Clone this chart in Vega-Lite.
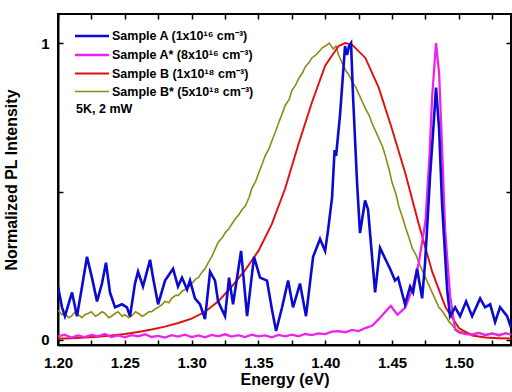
{
  "$schema": "https://vega.github.io/schema/vega-lite/v6.json",
  "width": 453,
  "height": 331,
  "autosize": {"type": "none"},
  "padding": {"left": 58, "top": 14, "right": 1, "bottom": 47},
  "background": "white",
  "config": {
    "font": "Liberation Sans",
    "view": {"stroke": "black", "strokeWidth": 2},
    "axis": {"labelFont": "Liberation Sans", "titleFont": "Liberation Sans", "labelFontWeight": "bold", "titleFontWeight": "bold", "labelColor": "black", "titleColor": "black", "domainColor": "black", "domainWidth": 2, "tickColor": "black", "tickWidth": 1.5, "grid": false}
  },
  "datasets": {
    "spectra": [
      {"s":"B*","x":1.200,"y":0.10},{"s":"B*","x":1.203,"y":0.085},{"s":"B*","x":1.205,"y":0.09},{"s":"B*","x":1.208,"y":0.075},{"s":"B*","x":1.210,"y":0.08},{"s":"B*","x":1.213,"y":0.095},{"s":"B*","x":1.215,"y":0.085},{"s":"B*","x":1.218,"y":0.075},{"s":"B*","x":1.220,"y":0.085},{"s":"B*","x":1.223,"y":0.09},{"s":"B*","x":1.225,"y":0.095},{"s":"B*","x":1.228,"y":0.08},{"s":"B*","x":1.230,"y":0.085},{"s":"B*","x":1.233,"y":0.095},{"s":"B*","x":1.235,"y":0.09},{"s":"B*","x":1.238,"y":0.075},{"s":"B*","x":1.240,"y":0.08},{"s":"B*","x":1.243,"y":0.09},{"s":"B*","x":1.245,"y":0.095},{"s":"B*","x":1.248,"y":0.08},{"s":"B*","x":1.250,"y":0.085},{"s":"B*","x":1.253,"y":0.075},{"s":"B*","x":1.255,"y":0.08},{"s":"B*","x":1.258,"y":0.095},{"s":"B*","x":1.260,"y":0.09},{"s":"B*","x":1.263,"y":0.08},{"s":"B*","x":1.265,"y":0.085},{"s":"B*","x":1.268,"y":0.095},{"s":"B*","x":1.270,"y":0.095},{"s":"B*","x":1.273,"y":0.105},{"s":"B*","x":1.275,"y":0.11},{"s":"B*","x":1.278,"y":0.12},{"s":"B*","x":1.280,"y":0.13},{"s":"B*","x":1.283,"y":0.125},{"s":"B*","x":1.285,"y":0.14},{"s":"B*","x":1.288,"y":0.15},{"s":"B*","x":1.290,"y":0.15},{"s":"B*","x":1.293,"y":0.165},{"s":"B*","x":1.295,"y":0.17},{"s":"B*","x":1.298,"y":0.18},{"s":"B*","x":1.300,"y":0.19},{"s":"B*","x":1.303,"y":0.205},{"s":"B*","x":1.305,"y":0.21},{"s":"B*","x":1.308,"y":0.23},{"s":"B*","x":1.310,"y":0.24},{"s":"B*","x":1.313,"y":0.265},{"s":"B*","x":1.315,"y":0.28},{"s":"B*","x":1.318,"y":0.31},{"s":"B*","x":1.320,"y":0.33},{"s":"B*","x":1.323,"y":0.345},{"s":"B*","x":1.325,"y":0.36},{"s":"B*","x":1.328,"y":0.375},{"s":"B*","x":1.330,"y":0.39},{"s":"B*","x":1.333,"y":0.41},{"s":"B*","x":1.335,"y":0.42},{"s":"B*","x":1.338,"y":0.44},{"s":"B*","x":1.340,"y":0.45},{"s":"B*","x":1.343,"y":0.48},{"s":"B*","x":1.345,"y":0.51},{"s":"B*","x":1.348,"y":0.535},{"s":"B*","x":1.350,"y":0.56},{"s":"B*","x":1.353,"y":0.595},{"s":"B*","x":1.355,"y":0.62},{"s":"B*","x":1.358,"y":0.645},{"s":"B*","x":1.360,"y":0.67},{"s":"B*","x":1.363,"y":0.705},{"s":"B*","x":1.365,"y":0.73},{"s":"B*","x":1.368,"y":0.765},{"s":"B*","x":1.370,"y":0.79},{"s":"B*","x":1.373,"y":0.81},{"s":"B*","x":1.375,"y":0.84},{"s":"B*","x":1.378,"y":0.86},{"s":"B*","x":1.380,"y":0.88},{"s":"B*","x":1.383,"y":0.90},{"s":"B*","x":1.385,"y":0.92},{"s":"B*","x":1.388,"y":0.935},{"s":"B*","x":1.390,"y":0.95},{"s":"B*","x":1.393,"y":0.96},{"s":"B*","x":1.395,"y":0.97},{"s":"B*","x":1.398,"y":0.985},{"s":"B*","x":1.400,"y":0.99},{"s":"B*","x":1.403,"y":1.00},{"s":"B*","x":1.406,"y":0.98},{"s":"B*","x":1.408,"y":0.99},{"s":"B*","x":1.410,"y":0.96},{"s":"B*","x":1.413,"y":0.93},{"s":"B*","x":1.415,"y":0.91},{"s":"B*","x":1.418,"y":0.89},{"s":"B*","x":1.420,"y":0.87},{"s":"B*","x":1.423,"y":0.85},{"s":"B*","x":1.425,"y":0.83},{"s":"B*","x":1.428,"y":0.80},{"s":"B*","x":1.430,"y":0.78},{"s":"B*","x":1.433,"y":0.755},{"s":"B*","x":1.435,"y":0.73},{"s":"B*","x":1.438,"y":0.70},{"s":"B*","x":1.440,"y":0.68},{"s":"B*","x":1.443,"y":0.65},{"s":"B*","x":1.445,"y":0.62},{"s":"B*","x":1.448,"y":0.57},{"s":"B*","x":1.450,"y":0.53},{"s":"B*","x":1.453,"y":0.49},{"s":"B*","x":1.455,"y":0.45},{"s":"B*","x":1.458,"y":0.41},{"s":"B*","x":1.460,"y":0.38},{"s":"B*","x":1.463,"y":0.34},{"s":"B*","x":1.465,"y":0.31},{"s":"B*","x":1.468,"y":0.285},{"s":"B*","x":1.470,"y":0.26},{"s":"B*","x":1.473,"y":0.23},{"s":"B*","x":1.475,"y":0.21},{"s":"B*","x":1.478,"y":0.18},{"s":"B*","x":1.480,"y":0.16},{"s":"B*","x":1.483,"y":0.13},{"s":"B*","x":1.485,"y":0.11},{"s":"B*","x":1.488,"y":0.095},{"s":"B*","x":1.490,"y":0.08},{"s":"B*","x":1.493,"y":0.06},{"s":"B*","x":1.495,"y":0.05},{"s":"B*","x":1.498,"y":0.035},{"s":"B*","x":1.500,"y":0.03},{"s":"B*","x":1.505,"y":0.025},{"s":"B*","x":1.510,"y":0.02},{"s":"B*","x":1.515,"y":0.024},{"s":"B*","x":1.520,"y":0.018},{"s":"B*","x":1.525,"y":0.022},{"s":"B*","x":1.530,"y":0.018},{"s":"B*","x":1.535,"y":0.022},{"s":"B*","x":1.539,"y":0.02},

      {"s":"B","x":1.20,"y":0.004},{"s":"B","x":1.21,"y":0.006},{"s":"B","x":1.22,"y":0.008},{"s":"B","x":1.23,"y":0.011},{"s":"B","x":1.24,"y":0.015},{"s":"B","x":1.25,"y":0.02},{"s":"B","x":1.26,"y":0.027},{"s":"B","x":1.27,"y":0.035},{"s":"B","x":1.28,"y":0.045},{"s":"B","x":1.29,"y":0.057},{"s":"B","x":1.30,"y":0.072},{"s":"B","x":1.31,"y":0.095},{"s":"B","x":1.32,"y":0.13},{"s":"B","x":1.33,"y":0.18},{"s":"B","x":1.34,"y":0.235},{"s":"B","x":1.35,"y":0.30},{"s":"B","x":1.36,"y":0.39},{"s":"B","x":1.37,"y":0.51},{"s":"B","x":1.38,"y":0.66},{"s":"B","x":1.39,"y":0.80},{"s":"B","x":1.40,"y":0.925},{"s":"B","x":1.41,"y":0.99},{"s":"B","x":1.415,"y":1.0},{"s":"B","x":1.42,"y":0.995},{"s":"B","x":1.43,"y":0.95},{"s":"B","x":1.44,"y":0.85},{"s":"B","x":1.45,"y":0.71},{"s":"B","x":1.46,"y":0.56},{"s":"B","x":1.47,"y":0.39},{"s":"B","x":1.48,"y":0.23},{"s":"B","x":1.49,"y":0.11},{"s":"B","x":1.50,"y":0.04},{"s":"B","x":1.51,"y":0.015},{"s":"B","x":1.52,"y":0.008},{"s":"B","x":1.53,"y":0.006},{"s":"B","x":1.539,"y":0.005},

      {"s":"A*","x":1.200,"y":0.012},{"s":"A*","x":1.205,"y":0.018},{"s":"A*","x":1.210,"y":0.008},{"s":"A*","x":1.215,"y":0.015},{"s":"A*","x":1.220,"y":0.010},{"s":"A*","x":1.225,"y":0.017},{"s":"A*","x":1.230,"y":0.012},{"s":"A*","x":1.235,"y":0.020},{"s":"A*","x":1.240,"y":0.010},{"s":"A*","x":1.245,"y":0.015},{"s":"A*","x":1.250,"y":0.009},{"s":"A*","x":1.255,"y":0.016},{"s":"A*","x":1.260,"y":0.012},{"s":"A*","x":1.265,"y":0.019},{"s":"A*","x":1.270,"y":0.010},{"s":"A*","x":1.275,"y":0.014},{"s":"A*","x":1.280,"y":0.008},{"s":"A*","x":1.285,"y":0.016},{"s":"A*","x":1.290,"y":0.011},{"s":"A*","x":1.295,"y":0.018},{"s":"A*","x":1.300,"y":0.010},{"s":"A*","x":1.305,"y":0.015},{"s":"A*","x":1.310,"y":0.009},{"s":"A*","x":1.315,"y":0.017},{"s":"A*","x":1.320,"y":0.012},{"s":"A*","x":1.325,"y":0.019},{"s":"A*","x":1.330,"y":0.011},{"s":"A*","x":1.335,"y":0.016},{"s":"A*","x":1.340,"y":0.010},{"s":"A*","x":1.345,"y":0.018},{"s":"A*","x":1.350,"y":0.012},{"s":"A*","x":1.355,"y":0.015},{"s":"A*","x":1.360,"y":0.009},{"s":"A*","x":1.365,"y":0.017},{"s":"A*","x":1.370,"y":0.012},{"s":"A*","x":1.375,"y":0.018},{"s":"A*","x":1.380,"y":0.012},{"s":"A*","x":1.385,"y":0.020},{"s":"A*","x":1.390,"y":0.016},{"s":"A*","x":1.395,"y":0.022},{"s":"A*","x":1.400,"y":0.020},{"s":"A*","x":1.405,"y":0.028},{"s":"A*","x":1.410,"y":0.030},{"s":"A*","x":1.415,"y":0.026},{"s":"A*","x":1.420,"y":0.034},{"s":"A*","x":1.425,"y":0.030},{"s":"A*","x":1.430,"y":0.040},{"s":"A*","x":1.435,"y":0.048},{"s":"A*","x":1.440,"y":0.070},{"s":"A*","x":1.445,"y":0.095},{"s":"A*","x":1.449,"y":0.115},{"s":"A*","x":1.454,"y":0.085},{"s":"A*","x":1.460,"y":0.11},{"s":"A*","x":1.465,"y":0.17},{"s":"A*","x":1.470,"y":0.26},{"s":"A*","x":1.475,"y":0.40},{"s":"A*","x":1.478,"y":0.62},{"s":"A*","x":1.480,"y":0.82},{"s":"A*","x":1.4829,"y":1.00},{"s":"A*","x":1.4852,"y":0.90},{"s":"A*","x":1.4874,"y":0.65},{"s":"A*","x":1.4897,"y":0.37},{"s":"A*","x":1.4934,"y":0.15},{"s":"A*","x":1.4972,"y":0.035},{"s":"A*","x":1.500,"y":0.025},{"s":"A*","x":1.505,"y":0.02},{"s":"A*","x":1.510,"y":0.018},{"s":"A*","x":1.515,"y":0.024},{"s":"A*","x":1.520,"y":0.016},{"s":"A*","x":1.525,"y":0.022},{"s":"A*","x":1.530,"y":0.015},{"s":"A*","x":1.535,"y":0.023},{"s":"A*","x":1.539,"y":0.018},

      {"s":"A","x":1.2000,"y":0.18},{"s":"A","x":1.2030,"y":0.11},{"s":"A","x":1.2052,"y":0.08},{"s":"A","x":1.2105,"y":0.16},{"s":"A","x":1.2142,"y":0.08},{"s":"A","x":1.2180,"y":0.18},{"s":"A","x":1.2217,"y":0.28},{"s":"A","x":1.2254,"y":0.21},{"s":"A","x":1.2292,"y":0.13},{"s":"A","x":1.2329,"y":0.19},{"s":"A","x":1.2359,"y":0.26},{"s":"A","x":1.2389,"y":0.16},{"s":"A","x":1.2427,"y":0.11},{"s":"A","x":1.2479,"y":0.12},{"s":"A","x":1.2516,"y":0.11},{"s":"A","x":1.2539,"y":0.08},{"s":"A","x":1.2576,"y":0.19},{"s":"A","x":1.2599,"y":0.23},{"s":"A","x":1.2636,"y":0.18},{"s":"A","x":1.2689,"y":0.27},{"s":"A","x":1.2711,"y":0.21},{"s":"A","x":1.2749,"y":0.12},{"s":"A","x":1.2801,"y":0.20},{"s":"A","x":1.2861,"y":0.24},{"s":"A","x":1.2898,"y":0.18},{"s":"A","x":1.2928,"y":0.21},{"s":"A","x":1.2966,"y":0.17},{"s":"A","x":1.2988,"y":0.20},{"s":"A","x":1.3025,"y":0.14},{"s":"A","x":1.3063,"y":0.12},{"s":"A","x":1.3100,"y":0.07},{"s":"A","x":1.3138,"y":0.23},{"s":"A","x":1.3175,"y":0.20},{"s":"A","x":1.3198,"y":0.13},{"s":"A","x":1.3250,"y":0.08},{"s":"A","x":1.3280,"y":0.21},{"s":"A","x":1.3310,"y":0.12},{"s":"A","x":1.3370,"y":0.30},{"s":"A","x":1.3415,"y":0.08},{"s":"A","x":1.3467,"y":0.28},{"s":"A","x":1.3512,"y":0.21},{"s":"A","x":1.3564,"y":0.20},{"s":"A","x":1.3602,"y":0.10},{"s":"A","x":1.3632,"y":0.03},{"s":"A","x":1.3677,"y":0.11},{"s":"A","x":1.3722,"y":0.20},{"s":"A","x":1.3759,"y":0.11},{"s":"A","x":1.3811,"y":0.19},{"s":"A","x":1.3856,"y":0.08},{"s":"A","x":1.3909,"y":0.28},{"s":"A","x":1.3961,"y":0.34},{"s":"A","x":1.3999,"y":0.30},{"s":"A","x":1.4021,"y":0.37},{"s":"A","x":1.4051,"y":0.48},{"s":"A","x":1.4058,"y":0.54},{"s":"A","x":1.4070,"y":0.64},{"s":"A","x":1.4081,"y":0.62},{"s":"A","x":1.4111,"y":0.76},{"s":"A","x":1.4148,"y":0.99},{"s":"A","x":1.4163,"y":0.96},{"s":"A","x":1.4178,"y":0.99},{"s":"A","x":1.4193,"y":1.00},{"s":"A","x":1.4208,"y":0.82},{"s":"A","x":1.4238,"y":0.53},{"s":"A","x":1.4260,"y":0.36},{"s":"A","x":1.4298,"y":0.47},{"s":"A","x":1.4320,"y":0.44},{"s":"A","x":1.4373,"y":0.16},{"s":"A","x":1.4410,"y":0.31},{"s":"A","x":1.4463,"y":0.26},{"s":"A","x":1.4485,"y":0.24},{"s":"A","x":1.4522,"y":0.20},{"s":"A","x":1.4545,"y":0.21},{"s":"A","x":1.4597,"y":0.12},{"s":"A","x":1.4635,"y":0.18},{"s":"A","x":1.4657,"y":0.16},{"s":"A","x":1.4687,"y":0.24},{"s":"A","x":1.4725,"y":0.14},{"s":"A","x":1.4747,"y":0.26},{"s":"A","x":1.4769,"y":0.43},{"s":"A","x":1.4784,"y":0.55},{"s":"A","x":1.4807,"y":0.70},{"s":"A","x":1.4829,"y":0.85},{"s":"A","x":1.4852,"y":0.71},{"s":"A","x":1.4874,"y":0.46},{"s":"A","x":1.4912,"y":0.17},{"s":"A","x":1.4934,"y":0.08},{"s":"A","x":1.4972,"y":0.11},{"s":"A","x":1.5009,"y":0.08},{"s":"A","x":1.5054,"y":0.13},{"s":"A","x":1.5099,"y":0.08},{"s":"A","x":1.5159,"y":0.14},{"s":"A","x":1.5196,"y":0.11},{"s":"A","x":1.5234,"y":0.12},{"s":"A","x":1.5271,"y":0.06},{"s":"A","x":1.5308,"y":0.11},{"s":"A","x":1.5361,"y":0.08},{"s":"A","x":1.5391,"y":0.04}
    ],
    "note": [{"x": 1.2135, "y": 0.778, "t": "5K, 2 mW"}]
  },
  "layer": [
    {
      "data": {"name": "spectra"},
      "mark": {"type": "line", "clip": true},
      "encoding": {
        "x": {"field": "x", "type": "quantitative", "scale": {"domain": [1.2, 1.539], "nice": false, "zero": false},
          "axis": {"title": "Energy (eV)", "titleFontSize": 16, "titlePadding": 1, "labelFontSize": 15, "values": [1.2,1.225,1.25,1.275,1.3,1.325,1.35,1.375,1.4,1.425,1.45,1.475,1.5,1.525], "labelExpr": "abs(datum.value*20 - round(datum.value*20)) < 0.001 ? format(datum.value, '.2f') : ''", "tickSize": -5, "labelPadding": 15, "labelFlush": false, "labelOverlap": false}},
        "y": {"field": "y", "type": "quantitative", "scale": {"domain": [-0.017, 1.098], "nice": false, "zero": false},
          "axis": {"title": "Normalized PL Intensity", "titleFontSize": 16, "labelFontSize": 15, "values": [0, 0.5, 1], "labelExpr": "datum.value == 0.5 ? '' : format(datum.value, 'd')", "tickSize": -5, "labelPadding": 14, "titlePadding": 21}},
        "color": {"field": "s", "type": "nominal", "sort": ["A", "A*", "B", "B*"],
          "scale": {"domain": ["A", "A*", "B", "B*"], "range": ["#0a0ad2", "#ee22ee", "#e01010", "#8c8c14"]},
          "legend": {"title": null, "orient": "none", "legendX": 24, "legendY": 12, "symbolType": "M-2,0H2", "symbolSize": 290, "symbolStrokeWidth": 2, "labelFontSize": 12.5, "labelFontWeight": "bold", "labelFont": "Liberation Sans", "labelColor": "black", "rowPadding": 2, "labelOffset": 10,
            "labelExpr": "datum.value == 'A' ? 'Sample A (1x10¹⁶ cm⁻³)' : datum.value == 'A*' ? 'Sample A* (8x10¹⁶ cm⁻³)' : datum.value == 'B' ? 'Sample B (1x10¹⁸ cm⁻³)' : 'Sample B* (5x10¹⁸ cm⁻³)'"}},
        "strokeWidth": {"field": "s", "type": "nominal", "scale": {"domain": ["A", "A*", "B", "B*"], "range": [2.6, 1.6, 2.5, 1.3]}, "legend": null},
        "order": {"field": "x", "type": "quantitative"}
      }
    },
    {
      "data": {"name": "note"},
      "mark": {"type": "text", "align": "left", "baseline": "middle", "fontSize": 12.5, "fontWeight": "bold", "font": "Liberation Sans", "color": "black"},
      "encoding": {
        "x": {"field": "x", "type": "quantitative", "axis": null},
        "y": {"field": "y", "type": "quantitative", "axis": null},
        "text": {"field": "t"}
      }
    },
    {
      "data": {"values": [{}]},
      "mark": {"type": "rule", "opacity": 0},
      "encoding": {
        "x": {"datum": 1.3, "type": "quantitative", "axis": {"orient": "top", "title": null, "labels": false, "domain": false, "values": [1.2,1.225,1.25,1.275,1.3,1.325,1.35,1.375,1.4,1.425,1.45,1.475,1.5,1.525], "tickSize": -5}},
        "y": {"datum": 0.5, "type": "quantitative", "axis": {"orient": "right", "title": null, "labels": false, "domain": false, "values": [0, 0.5, 1], "tickSize": -5}}
      }
    }
  ],
  "resolve": {"axis": {"x": "independent", "y": "independent"}}
}
